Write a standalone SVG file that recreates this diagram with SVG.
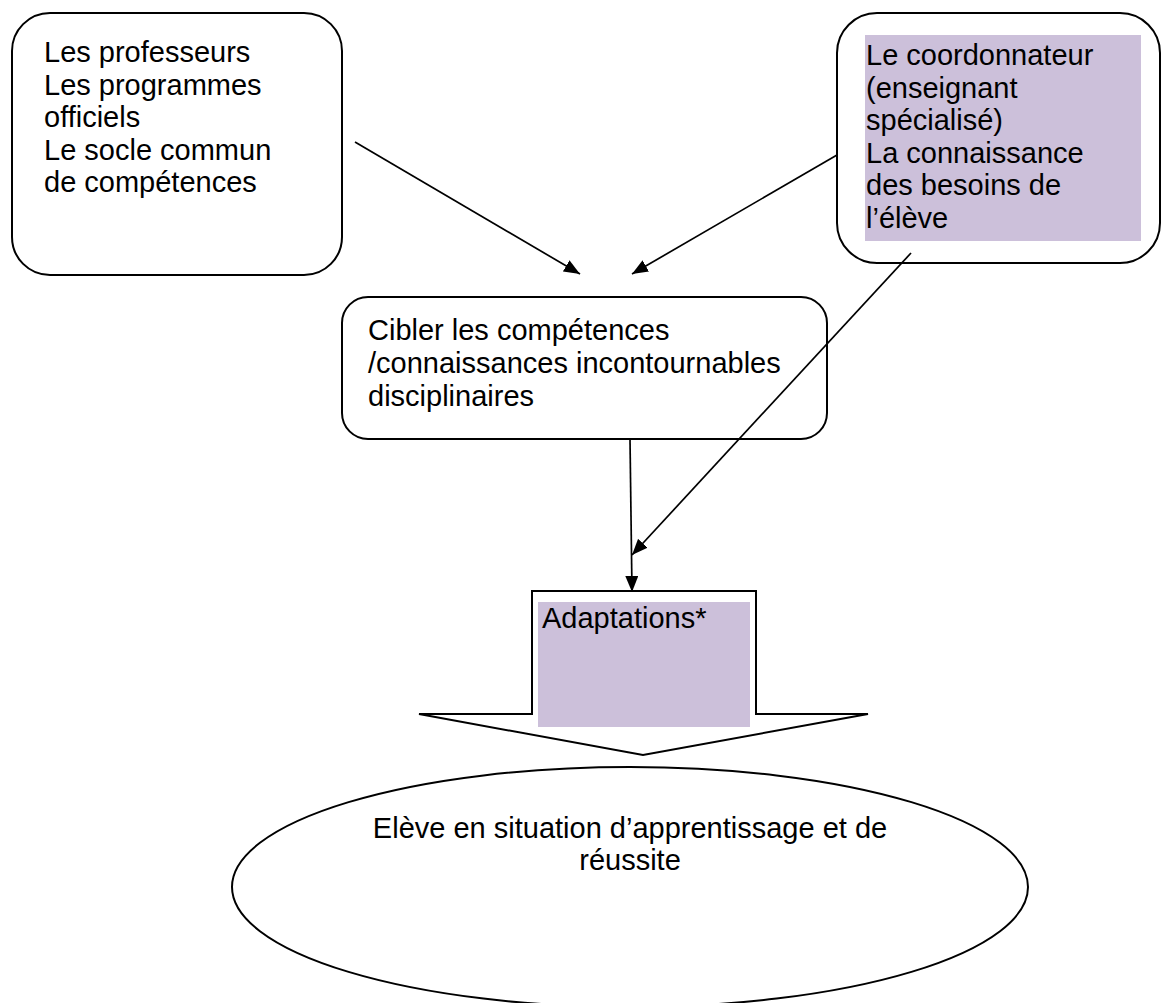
<svg xmlns="http://www.w3.org/2000/svg" width="1161" height="1003" viewBox="0 0 1161 1003">
<defs>
<style>
.box{fill:#fff;stroke:#000;stroke-width:2}
.hl{fill:#CCC0DA;stroke:none}
.t{font-family:"Liberation Sans",Arial,sans-serif;font-size:29px;fill:#000}
.c{stroke:#000;stroke-width:1.7;fill:none}
</style>
<marker id="ah" viewBox="0 0 16 13" refX="16" refY="6.5" markerWidth="16" markerHeight="13" markerUnits="userSpaceOnUse" orient="auto">
<path d="M0,0 L16,6.5 L0,13 Z" fill="#000"/>
</marker>
</defs>
<rect width="1161" height="1003" fill="#fff"/>
<g id="node-sources">
<rect class="box" x="12" y="13" width="330" height="262" rx="38" ry="38"/>
<text class="t" x="44" y="62">Les professeurs</text>
<text class="t" x="44" y="94.5">Les programmes</text>
<text class="t" x="44" y="127">officiels</text>
<text class="t" x="44" y="159.5">Le socle commun</text>
<text class="t" x="44" y="192">de compétences</text>
</g>
<g id="node-coordonnateur">
<rect class="box" x="837" y="13" width="323" height="250" rx="40" ry="40"/>
<rect class="hl" x="865" y="35" width="276" height="206"/>
<text class="t" x="866" y="65">Le coordonnateur</text>
<text class="t" x="866" y="97.5">(enseignant</text>
<text class="t" x="866" y="130">spécialisé)</text>
<text class="t" x="866" y="162.5">La connaissance</text>
<text class="t" x="866" y="195">des besoins de</text>
<text class="t" x="866" y="227.5">l’élève</text>
</g>
<g id="node-cibler">
<rect class="box" x="342" y="297" width="485" height="142" rx="26" ry="26"/>
<text class="t" x="368" y="340">Cibler les compétences</text>
<text class="t" x="368" y="373">/connaissances incontournables</text>
<text class="t" x="368" y="406">disciplinaires</text>
</g>
<g id="node-adaptations">
<polygon class="box" points="532,591 756,591 756,714 868,714 643,755 419,714 532,714"/>
<rect class="hl" x="538" y="602" width="212" height="125"/>
<text class="t" x="542" y="628">Adaptations*</text>
</g>
<g id="node-eleve">
<ellipse class="box" cx="630" cy="887" rx="398" ry="120"/>
<text class="t" x="630" y="838" text-anchor="middle">Elève en situation d’apprentissage et de</text>
<text class="t" x="630" y="870" text-anchor="middle">réussite</text>
</g>
<g id="connectors">
<line class="c" x1="355" y1="142" x2="580" y2="274" marker-end="url(#ah)"/>
<line class="c" x1="837" y1="155" x2="632" y2="274" marker-end="url(#ah)"/>
<line class="c" x1="630" y1="439" x2="632" y2="592" marker-end="url(#ah)"/>
<line class="c" x1="911" y1="253" x2="632" y2="555" marker-end="url(#ah)"/>
</g>
</svg>
